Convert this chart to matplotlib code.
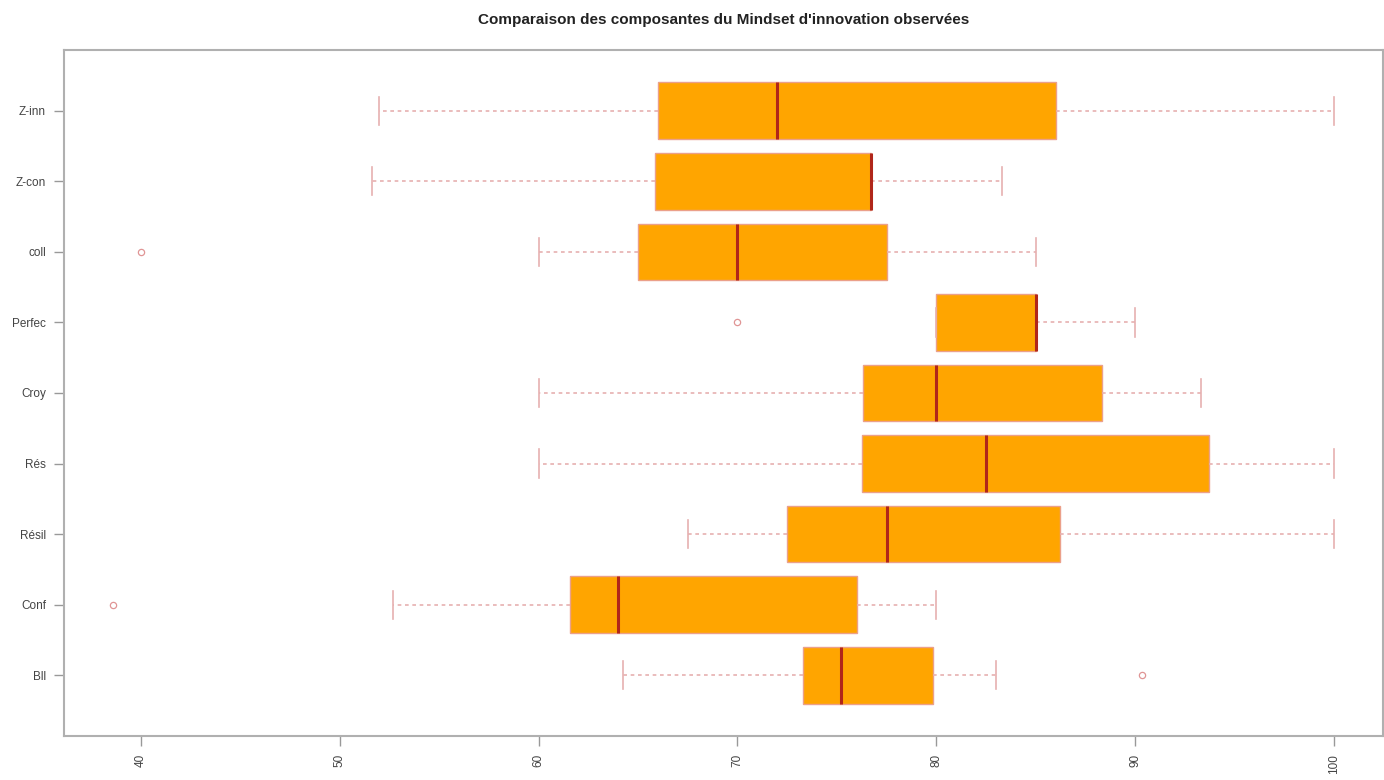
import matplotlib
matplotlib.use("Agg")
import matplotlib.pyplot as plt

plt.rcParams['font.family'] = ['Liberation Sans', 'DejaVu Sans']

categories = ["Bll", "Conf", "Résil", "Rés", "Croy", "Perfec", "coll", "Z-con", "Z-inn"]
whislo = [64.25, 52.7, 67.5, 60.0, 60.0, 80.0, 60.0, 51.65, 52.0]
q1     = [73.3, 61.6, 72.5, 76.25, 76.3, 80.0, 65.0, 65.85, 66.0]
med    = [75.2, 64.0, 77.5, 82.5, 80.0, 85.0, 70.0, 76.7, 72.0]
q3     = [79.85, 76.0, 86.2, 93.7, 88.35, 85.0, 77.5, 76.7, 86.0]
whishi = [83.0, 80.0, 100.0, 100.0, 93.3, 90.0, 85.0, 83.3, 100.0]
fliers = [[90.35], [38.6], [], [], [], [70.0], [40.0], [], []]
xticks = [40, 50, 60, 70, 80, 90, 100]
title = "Comparaison des composantes du Mindset d'innovation observées"

stats = []
for i, name in enumerate(categories):
    stats.append(dict(label=name, whislo=whislo[i], q1=q1[i], med=med[i],
                      q3=q3[i], whishi=whishi[i], fliers=fliers[i]))

fig = plt.figure(figsize=(13.84, 7.8), dpi=100)
ax = fig.add_axes([64/1384, 1-736/780, (1383-64)/1384, (736-50)/780])

edge = "#E6B0B0"
ax.bxp(stats, positions=range(1, len(categories)+1), vert=False, widths=0.8,
       patch_artist=True, showfliers=True,
       boxprops=dict(facecolor="#FFA500", edgecolor="#EBA08A", linewidth=1.0),
       medianprops=dict(color="#B0261A", linewidth=2.2, solid_capstyle='butt'),
       whiskerprops=dict(color=edge, linewidth=1.2, linestyle=(0, (2.2, 2.2))),
       capprops=dict(color=edge, linewidth=1.2),
       capwidths=0.4,
       flierprops=dict(marker='o', markersize=4.5, markerfacecolor='none',
                       markeredgecolor="#E09595", markeredgewidth=0.9))

ax.set_xlim(36.14, 102.46)
ax.set_ylim(0.14, len(categories) + 0.86)
ax.set_xticks(xticks)
ax.set_xticklabels([str(t) for t in xticks], rotation=90, fontsize=8.5, color="#444444")
ax.set_yticks(range(1, len(categories)+1))
ax.set_yticklabels(categories, fontsize=8.5, color="#444444")
ax.tick_params(axis='both', length=7, width=1, color="#999999", pad=6)
for s in ax.spines.values():
    s.set_color("#B0B0B0")
    s.set_linewidth(1.5)

fig.text((64+1383)/2/1384, 1-20/780, title, ha='center', va='center',
         fontsize=11, fontweight='bold', color="#222222")

fig.savefig("out.png", dpi=100)
